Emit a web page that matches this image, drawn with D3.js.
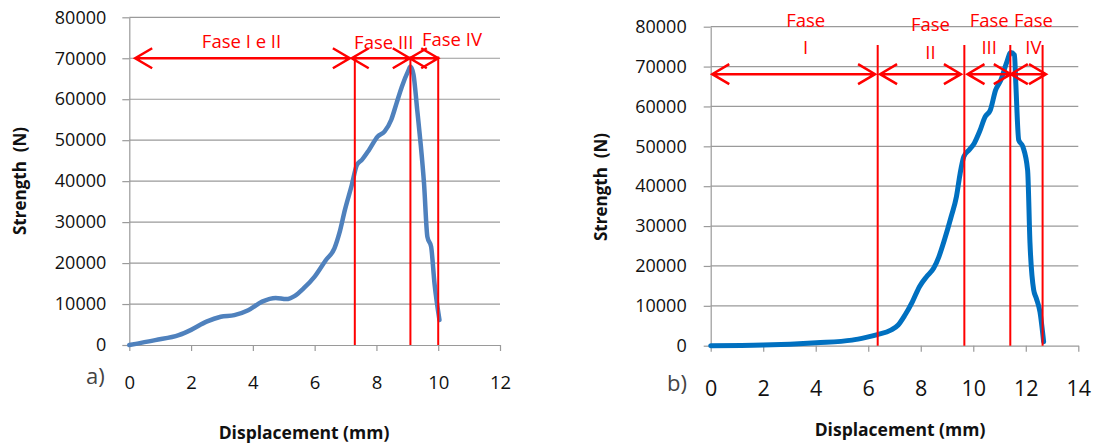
<!DOCTYPE html>
<html lang="en">
<head>
<meta charset="utf-8">
<title>Strength vs displacement</title>
<script src="https://d3js.org/d3.v7.min.js"></script>
<style>
  body { margin: 0; background: #fff; }
  text { font-family: "Open Sans", sans-serif; }
</style>
</head>
<body>
<div id="stage"></div>

<script>
  // ---- chart a) ----
  var dispA     = [0, 0.84, 1.6, 2.0, 2.5, 2.96, 3.4, 3.85, 4.3, 4.74, 5.08, 5.36, 5.64, 6.0, 6.36, 6.64, 6.8, 6.98, 7.2, 7.37, 7.53, 7.76, 8.04, 8.26, 8.48, 8.65, 8.82, 9.04, 9.1, 9.2, 9.32, 9.43, 9.54, 9.65, 9.77, 9.88, 10.04];
  var strengthA = [0, 1200, 2400, 3700, 5700, 6900, 7300, 8500, 10600, 11500, 11200, 12000, 13800, 16700, 20700, 23600, 27300, 33000, 39000, 44000, 45200, 47600, 50900, 52100, 55000, 59000, 63000, 67100, 68000, 66000, 57400, 49200, 39500, 26400, 24000, 15000, 6100];
  var phaseLinesA  = [7.3, 9.1, 10.0];
  var phaseArrowsA = [[0.19, 7.14], [7.2, 9.08], [9.08, 10.0]];
  var phaseLabelsA = [["Fase I e II"], ["Fase III"], ["Fase IV"]];
  var xTicksA = [0, 2, 4, 6, 8, 10, 12];

  // ---- chart b) ----
  var dispB     = [0, 2.0, 4.03, 5.38, 5.92, 6.35, 6.86, 7.14, 7.4, 7.68, 7.95, 8.22, 8.49, 8.69, 8.9, 9.16, 9.36, 9.5, 9.64, 9.84, 10.04, 10.24, 10.45, 10.65, 10.85, 11.05, 11.26, 11.43, 11.57, 11.62, 11.73, 11.89, 12.07, 12.16, 12.3, 12.4, 12.54, 12.68];
  var strengthB = [0, 170, 750, 1400, 2100, 2800, 3900, 5200, 7700, 11000, 14800, 17300, 19400, 22300, 26500, 32400, 37400, 43200, 47400, 49100, 50800, 53700, 57400, 59100, 64100, 66600, 70800, 73500, 72900, 65800, 51600, 49900, 44000, 25700, 14000, 11900, 8500, 1000];
  var phaseLinesB  = [6.36, 9.66, 11.41, 12.64];
  var phaseArrowsB = [[0.06, 6.26], [6.45, 9.53], [9.78, 11.43], [11.43, 12.77]];
  var phaseLabelsB = [["Fase", "I"], ["Fase", "II"], ["Fase", "III"], ["Fase", "IV"]];
  var xTicksB = [0, 2, 4, 6, 8, 10, 12, 14];

  var yTicks = [0, 10000, 20000, 30000, 40000, 50000, 60000, 70000, 80000];

  var svg = d3.select("#stage").append("svg")
    .attr("width", 1096).attr("height", 443);

  function drawPanel(p) {
    var x = d3.scaleLinear().domain(p.xDomain).range(p.xRange);
    var y = d3.scaleLinear().domain([0, 80000]).range(p.yRange);
    var g = svg.append("g");

    // gridlines
    g.selectAll(".grid").data(yTicks.slice(1)).enter().append("line")
      .attr("x1", p.xRange[0]).attr("x2", p.xRange[1])
      .attr("y1", function(d) { return y(d); }).attr("y2", function(d) { return y(d); })
      .attr("stroke", "#9a9a9a").attr("stroke-width", 1.2);

    var yAxis = g.append("g").attr("transform", "translate(" + p.xRange[0] + ",0)")
      .call(d3.axisLeft(y).tickValues(yTicks).tickFormat(d3.format("d"))
        .tickSize(7).tickSizeOuter(0).tickPadding(p.yPad));
    var xAxis = g.append("g").attr("transform", "translate(0," + p.yRange[0] + ")")
      .call(d3.axisBottom(x).tickValues(p.xTicks).tickFormat(d3.format("d"))
        .tickSize(6).tickSizeOuter(0).tickPadding(p.xPad));
    [yAxis, xAxis].forEach(function(a) {
      a.selectAll("path, line").attr("stroke", "#9a9a9a").attr("stroke-width", 1.2);
      a.selectAll("text").attr("fill", "#111").style("font-family", "'Open Sans', sans-serif");
    });
    yAxis.selectAll("text").style("font-size", p.yFont + "px");
    xAxis.selectAll("text").style("font-size", p.xFont + "px");

    // titles
    g.append("text").attr("x", p.xTitle[0]).attr("y", p.xTitle[1])
      .attr("text-anchor", "middle").style("font-weight", "bold").style("font-size", "17.5px")
      .attr("fill", "#111").text("Displacement (mm)");
    g.append("text").attr("transform", "translate(" + p.yTitle[0] + "," + p.yTitle[1] + ") rotate(-90)")
      .attr("text-anchor", "middle").style("font-weight", "bold").style("font-size", "17px")
      .style("white-space", "pre").attr("fill", "#111").text("Strength  (N)");
    g.append("text").attr("x", p.tag[0]).attr("y", p.tag[1])
      .style("font-size", "22px").attr("fill", "#444").text(p.tagText);

    // curve
    var line = d3.line()
      .x(function(d, i) { return x(p.xs[i]); })
      .y(function(d) { return y(d); })
      .curve(d3.curveMonotoneX);
    g.append("path").datum(p.ys).attr("d", line)
      .attr("fill", "none").attr("stroke", p.color).attr("stroke-width", p.lineWidth)
      .attr("stroke-linejoin", "round").attr("stroke-linecap", "round");

    // phase boundaries
    g.selectAll(".vline").data(p.lines).enter().append("line")
      .attr("x1", function(d) { return x(d); }).attr("x2", function(d) { return x(d); })
      .attr("y1", y(p.lineTop)).attr("y2", y(0))
      .attr("stroke", "#ff0000").attr("stroke-width", 2);

    // double arrows
    var ay = y(p.arrowY), hl = 17, hw = 10;
    p.arrows.forEach(function(a) {
      var x1 = x(a[0]), x2 = x(a[1]);
      g.append("path")
        .attr("d", "M" + x1 + "," + ay + "H" + x2 +
          "M" + (x1 + hl) + "," + (ay - hw) + "L" + x1 + "," + ay + "L" + (x1 + hl) + "," + (ay + hw) +
          "M" + (x2 - hl) + "," + (ay - hw) + "L" + x2 + "," + ay + "L" + (x2 - hl) + "," + (ay + hw))
        .attr("fill", "none").attr("stroke", "#ff0000").attr("stroke-width", 2.5);
    });

    // phase labels
    p.labels.forEach(function(lab, i) {
      var cx = (x(p.arrows[i][0]) + x(p.arrows[i][1])) / 2 + p.labelPos[i][0];
      lab.forEach(function(s, j) {
        g.append("text").attr("x", cx).attr("y", p.labelPos[i][1 + j])
          .attr("text-anchor", "middle").style("font-size", "18.5px")
          .attr("fill", "#ff0000").text(s);
      });
    });
  }

  drawPanel({
    xs: dispA, ys: strengthA, xDomain: [0, 12], xTicks: xTicksA,
    xRange: [129.3, 500], yRange: [345, 17.3],
    yPad: 16, xPad: 25, yFont: 18, xFont: 18.5,
    xTitle: [304, 439], yTitle: [26, 181], tag: [86, 384], tagText: "a)",
    color: "#4f81bd", lineWidth: 4.5,
    lines: phaseLinesA, lineTop: 70400, arrows: phaseArrowsA, arrowY: 70000,
    labels: phaseLabelsA, labelPos: [[-1, 48], [3, 48.5], [28, 45.5]]
  });

  drawPanel({
    xs: dispB, ys: strengthB, xDomain: [0, 14], xTicks: xTicksB,
    xRange: [710.7, 1078.3], yRange: [345.7, 26.7],
    yPad: 17, xPad: 29, yFont: 18, xFont: 21.5,
    xTitle: [900, 436], yTitle: [607, 187], tag: [667, 391], tagText: "b)",
    color: "#0070c0", lineWidth: 5,
    lines: phaseLinesB, lineTop: 75400, arrows: phaseArrowsB, arrowY: 68100,
    labels: phaseLabelsB, labelPos: [[12, 26.5, 53.5], [10, 30.5, 58.5], [0, 26.5, 53.5], [5, 26.5, 53.5]]
  });
</script>
</body>
</html>
